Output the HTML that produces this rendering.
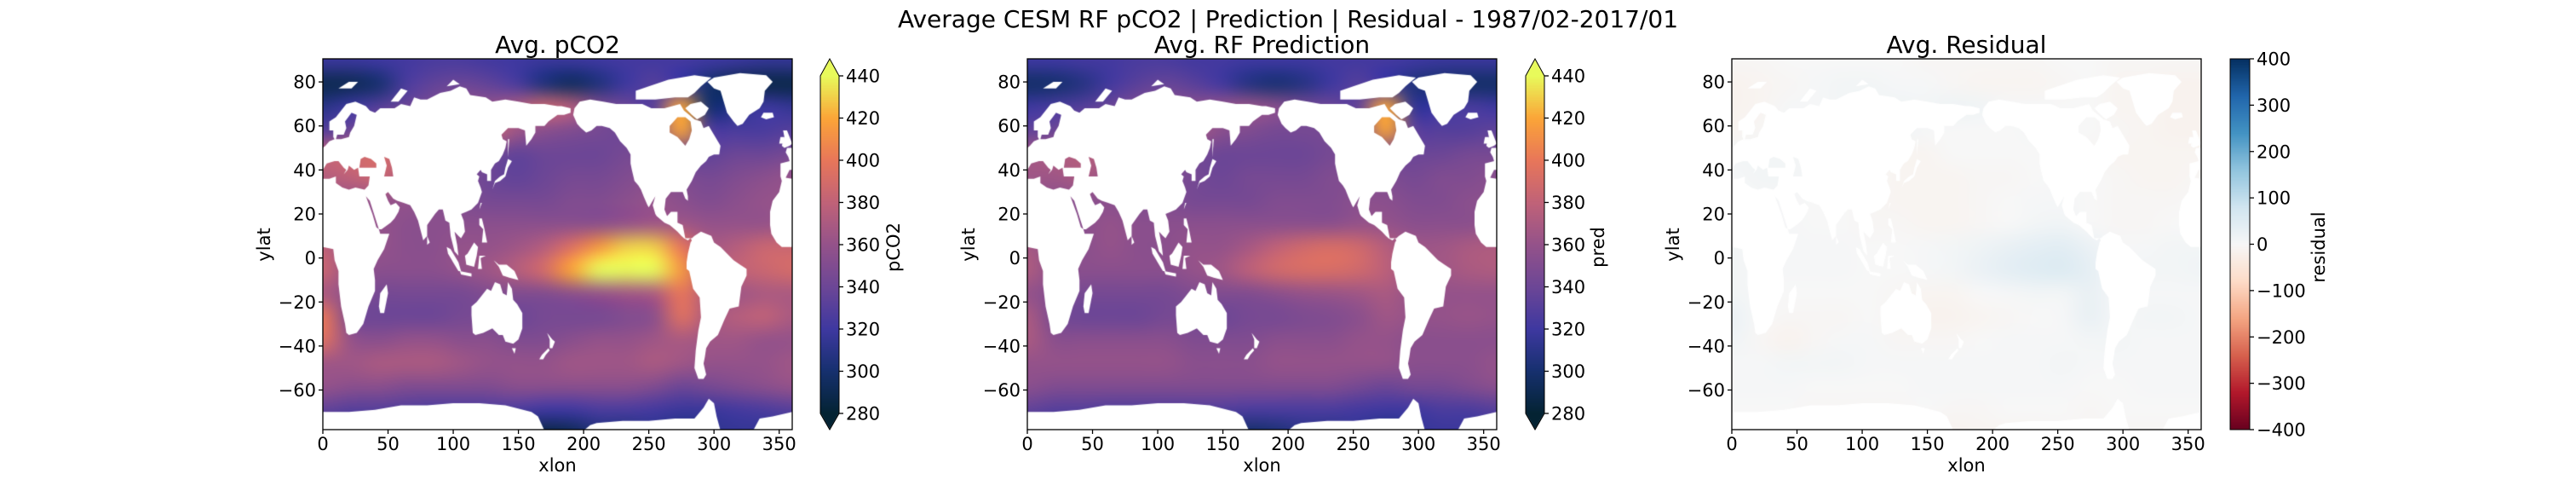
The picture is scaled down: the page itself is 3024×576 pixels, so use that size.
<!DOCTYPE html>
<html><head><meta charset="utf-8"><style>
html,body{margin:0;padding:0;background:#fff;}
#wrap{position:relative;width:3024px;height:576px;overflow:hidden;}
canvas,svg{position:absolute;left:0;top:0;}
text{font-family:"DejaVu Sans","Liberation Sans",sans-serif;fill:#000;}
</style></head><body>
<div id="wrap">
<canvas id="cv" width="3024" height="576"></canvas>
<svg id="sv" width="3024" height="576"></svg>
</div>
<script>
// ---- data (rows: lat 85..-75 step 10; cols: lon 10..350 step 20) ----
const lonCenters=[10,30,50,70,90,110,130,150,170,190,210,230,250,270,290,310,330,350];
const latCenters=[85,75,65,55,45,35,25,15,5,-5,-15,-25,-35,-45,-55,-65,-75];
const pco2Values=[
[318,318,320,322,325,325,322,320,318,318,320,322,322,322,320,318,315,315],
[290,292,300,325,335,340,335,325,305,295,305,320,330,320,300,290,288,288],
[310,320,330,340,350,360,360,370,385,375,350,340,330,420,300,310,320,315],
[330,340,360,380,380,370,385,365,355,350,345,340,340,420,330,325,325,330],
[380,385,390,380,370,360,345,335,340,340,340,345,345,340,335,340,340,345],
[375,380,385,370,360,350,340,335,340,345,345,350,355,350,345,350,355,360],
[360,360,360,360,355,350,345,345,345,350,350,355,360,355,350,355,360,360],
[360,360,360,355,355,355,355,355,355,355,355,360,365,365,360,360,360,365],
[380,360,360,355,355,360,360,365,375,395,415,430,430,400,370,375,385,385],
[385,360,355,355,355,360,365,375,390,420,440,440,440,415,375,380,385,390],
[370,355,345,345,345,345,350,350,350,355,360,365,370,400,370,365,370,370],
[400,345,340,340,340,345,345,340,345,345,345,350,355,395,370,375,380,370],
[395,360,355,360,360,355,355,350,350,355,360,360,365,370,365,365,360,360],
[365,365,370,370,370,365,360,360,360,365,365,365,370,365,360,360,360,365],
[360,355,355,350,350,350,350,355,355,355,355,355,350,340,345,350,355,360],
[335,330,330,328,325,325,325,325,320,320,325,325,322,318,318,322,325,330],
[315,315,315,315,315,312,305,290,285,290,305,305,312,305,312,315,315,315]];
const predValues=[
[320,320,322,322,325,325,322,322,320,320,320,322,322,322,320,318,318,318],
[298,300,308,322,332,338,332,322,308,302,308,320,330,320,305,300,298,298],
[320,325,330,340,350,355,355,360,362,355,345,340,335,420,315,320,325,320],
[335,340,355,365,365,360,368,355,350,345,345,345,340,420,335,330,330,335],
[365,370,375,370,360,355,345,340,340,340,340,345,345,345,340,340,345,345],
[365,365,370,360,355,350,345,340,345,345,345,350,350,350,345,350,350,355],
[355,355,355,355,350,350,345,345,345,350,350,350,355,355,350,350,355,355],
[355,355,355,360,355,355,355,355,355,355,355,355,360,360,355,355,355,360],
[368,355,355,360,355,355,360,360,368,380,388,392,388,375,365,365,370,372],
[372,355,355,355,355,355,360,365,378,388,392,392,388,378,365,365,370,372],
[360,350,345,345,345,345,350,350,350,355,360,362,365,370,360,360,360,360],
[370,345,340,340,340,345,345,340,345,345,348,350,355,365,360,360,362,360],
[370,355,355,355,355,355,350,350,350,355,355,355,360,360,355,355,355,355],
[360,360,360,360,360,360,355,355,355,360,360,360,360,360,355,355,355,360],
[355,350,350,350,350,350,350,350,350,350,350,350,345,340,345,345,350,355],
[335,330,330,328,328,328,328,328,325,325,325,325,322,320,320,325,325,330],
[318,318,318,318,318,315,310,302,298,302,310,310,315,305,315,318,318,318]];
const residualValues=[
[-5,-5,0,0,0,0,0,-5,-5,-5,-5,-5,0,0,-5,-5,-5,-5],
[-15,-10,-5,5,10,10,5,5,-5,-10,-10,-10,-5,0,-10,-10,-15,-15],
[-15,-10,5,5,10,15,15,10,20,15,5,5,0,0,-10,-10,-15,-15],
[-10,-5,5,10,15,20,15,5,0,0,0,5,0,0,-5,-10,-15,-15],
[10,10,10,5,5,0,-10,-10,0,0,0,0,0,-5,-10,-10,-10,-10],
[5,10,10,5,5,0,-10,-10,-10,-5,-5,0,5,0,-5,-10,-10,-5],
[0,5,5,0,0,-5,-10,-10,-10,-5,0,5,5,0,-5,-5,-5,0],
[0,5,5,0,0,-5,-5,-10,-10,-5,0,10,15,0,-5,-5,0,0],
[10,5,5,5,5,0,0,5,10,20,30,40,45,25,5,5,10,10],
[10,5,5,5,5,0,0,5,10,25,40,50,55,35,5,10,10,15],
[10,5,0,0,0,0,-5,-10,-10,0,5,10,10,30,5,5,5,5],
[25,0,-5,-5,-5,0,-10,-15,-15,-10,-5,0,5,30,5,10,10,5],
[15,-5,-15,-5,5,5,-5,-5,-5,0,5,5,5,10,10,5,5,5],
[5,5,10,10,10,5,5,5,5,5,5,5,10,5,5,5,5,5],
[5,5,5,0,0,0,0,5,5,5,5,5,5,0,0,5,5,5],
[0,0,0,-5,-5,-5,-5,0,-5,-5,0,0,0,-5,0,0,0,0],
[-5,-5,-5,-5,-5,-5,-10,-15,-15,-10,-10,-10,-5,-5,-5,-5,-5,-5]];
const xTicks=[0,50,100,150,200,250,300,350];
const yTicks=[80,60,40,20,0,-20,-40,-60];
const thermalTicks=[280,300,320,340,360,380,400,420,440];
const residTicks=[-400,-300,-200,-100,0,100,200,300,400];

// ---- land polygons (lon,lat pairs) ----
const landPolys=[
[0,5,8,4,9,-1,12,-6,12,-12,14,-22,17,-30,18,-34,20,-35,26,-34,31,-30,33,-26,35,-22,40,-15,40,-10,39,-5,42,-1,47,4,51,11,44,11,43,13,45,13,52,16,55,18,58,21,59,23,56,25,52,24,50,26,48,29,50,30,54,27,57,26,62,25,67,24,70,21,73,17,77,8,80,10,80,15,86,20,89,22,92,22,94,17,97,16,98,10,101,3,104,1,103,6,101,12,104,10,106,9,109,12,108,17,106,20,110,21,114,22,119,25,122,30,121,32,119,35,120,37,118,38,121,40,122,39,126,38,126,35,129,35,129,40,132,43,135,44,138,47,140,50,141,53,138,54,137,56,142,59,150,59,155,58,156,51,160,54,163,57,163,60,170,60,173,62,180,65,185,65,190,66,190,68,183,69,180,69,170,70,160,70,150,71,140,72,130,71,125,73,113,74,110,77,105,78,98,76,90,75,80,72,75,72,70,73,67,69,60,70,55,68,44,68,40,66,36,67,33,69,25,71,18,70,14,67,10,64,5,62,5,58,8,58,8,55,9,54,5,53,2,51,0,50],
[360,5,352,5,348,7,344,11,343,15,343,21,345,26,350,30,352,35,351,37,351,43,358,44,357,46,355,48,356,50,360,50],
[354,50,358,51,360,52,358,55,356,58,353,58,354,55,352,51],[350,52,354,52,354,55,351,55],
[336,64,340,63,346,64,345,66,338,66],
[95,5,98,4,104,-2,106,-6,104,-6,101,-3,96,2],[105,-6,114,-7,114,-8.5,106,-7.5],
[109,1,111,2,116,7,119,5,118,1,116,-4,110,-3],[119,-5,120,1,125,1,121,0,122,-5],
[131,-1,135,-3,141,-3,147,-6,150,-10,143,-9,138,-8,135,-4],
[120,18,122,18,124,13,126,7,122,7,123,13,120,15],
[130,31,132,34,136,35,140,37,142,41,145,44,142,45,140,41,139,38,136,37,132,35],
[120,22,122,25,121,25],[80,6,82,7,80,10],[142,46,143,54,142,54],
[114,-22,114,-26,115,-34,117,-35,123,-34,130,-32,135,-35,138,-35,140,-38,146,-39,150,-37,153,-32,153,-25,149,-21,146,-19,145,-14,142,-11,141,-17,138,-16,136,-12,132,-11,129,-15,126,-14,122,-17,118,-20],
[145,-41,148,-41,147,-43.5],[172,-34,176,-37,178,-38,176,-41,174,-41,174,-37],[173,-41,174,-42,171,-44,169,-46,166,-46,168,-44],
[44,-25,47,-25,50,-16,49,-12,44,-16,43,-22],
[192,65,195,61,198,59,202,57,206,58,210,60,214,60,220,59,224,57,228,53,233,50,236,47,236,43,237,40,239,35,242,33,244,31,246,28,249,24,250,23,252,25,255,28,253,24,255,20,256,19,262,16,266,15,268,14,272,12,275,10,277,9,280,8,282,9,283,8,282,7,280,2,279,-2,279,-5,281,-6,284,-14,289,-18,290,-27,288,-33,286,-42,285,-50,288,-55,292,-55,294,-53,292,-48,293,-45,294,-41,297,-38,303,-35,308,-28,312,-23,319,-22,321,-13,325,-8,325,-5,320,-3,315,-1,310,2,305,5,300,7,298,10,290,12,285,10,283,9,278,9,277,12,276,15,272,16,272,21,267,21,264,19,262,22,263,27,267,30,271,30,276,30,278,27,280,26,280,28,279,31,283,35,286,39,290,42,294,44,296,46,300,47,304,47,305,51,302,54,298,58,296,60,292,59,290,62,285,63,281,65,277,67,274,70,268,69,262,68,252,68,245,70,235,70,225,70,215,71,205,72,197,71,193,68],
[240,72,255,72,270,73,280,73,285,75,290,78,298,82,285,83,265,81,250,78,240,76],
[300,77,305,76,308,70,310,66,315,62,318,60,322,61,327,65,335,68,338,71,339,76,345,80,340,83,320,84,300,82,295,80],
[278,68,282,70,290,71,296,68,293,65,287,63,283,65],
[12,77,20,80,27,80,22,77],[52,71,58,71,65,76,60,77],[95,78,105,79,100,81],
[0,-70,20,-70,40,-69,60,-67,80,-67,100,-66,120,-66,140,-67,160,-70,165,-72,170,-78.5,200,-78.5,205,-76,210,-75,230,-74,250,-74,270,-73,285,-73,292,-68,296,-64,300,-66,302,-72,305,-78.5,330,-78.5,335,-73,345,-72,360,-70,360,-85,0,-85]];
const seaPolys=[
[0,36,0,40,3,43,9,44,12,44,16,41,18,40,16,38,19,40,20,42,24,40,27,41,28,37,36,37,35,33,32,31,25,32,20,31,15,32,10,34,10,37,5,36],
[28,41,41,41,41,43,37,45,32,46,29,45],[47,37,54,37,53,41,51,45,47,46,49,42],
[33,28,36,26,43,13,41,14,38,20],
[10,54,14,54,20,55,21,57,24,60,26,65,22,66,17,62,18,59,16,56,11,56],
[266,57,272,55,278,51,281,54,283,58,282,62,278,64,272,64,266,60],
[355,36.5,360,36,360,40,358,40]];

// ---- layout ----
const AX_T=69,AX_H=435,AX_W=551,LAT_TOP=90.5,LAT_BOT=-78;
const panels=[
 {L:379,vals:pco2Values,cm:'thermal',vmin:280,vmax:440,title:'Avg. pCO2',cbx:963,cbw:22,cbl:'pCO2',cblx:1049,ext:true,ticks:thermalTicks,name:'pco2'},
 {L:1206,vals:predValues,cm:'thermal',vmin:280,vmax:440,title:'Avg. RF Prediction',cbx:1791,cbw:22,cbl:'pred',cblx:1876,ext:true,ticks:thermalTicks,name:'prediction'},
 {L:2033,vals:residualValues,cm:'rdbu',vmin:-400,vmax:400,title:'Avg. Residual',cbx:2618,cbw:23,cbl:'residual',cblx:2722,ext:false,ticks:residTicks,name:'residual'}];

const thermal=[[0,4,35,51],[.125,22,48,110],[.25,62,56,160],[.375,108,70,150],[.5,148,82,138],[.625,192,98,120],[.75,232,118,90],[.875,251,165,56],[1,232,250,91]];
const rdbu=[[0,103,0,31],[.1,178,24,43],[.2,214,96,77],[.3,244,165,130],[.4,253,219,199],[.5,247,247,247],[.6,209,229,240],[.7,146,197,222],[.8,67,147,195],[.9,33,102,172],[1,5,48,97]];
function cmap(stops,t){t=Math.max(0,Math.min(1,t));for(let i=1;i<stops.length;i++){if(t<=stops[i][0]){const a=stops[i-1],b=stops[i],f=(t-a[0])/(b[0]-a[0]);return [0,1,2].map(k=>Math.round(a[k+1]+(b[k+1]-a[k+1])*f));}}const l=stops[stops.length-1];return [l[1],l[2],l[3]];}

const cv=document.getElementById('cv'),ctx=cv.getContext('2d');
const SVGNS='http://www.w3.org/2000/svg',sv=document.getElementById('sv');
function T(x,y,s,size,anchor,extra){const t=document.createElementNS(SVGNS,'text');t.setAttribute('x',x);t.setAttribute('y',y);t.setAttribute('font-size',size);t.setAttribute('text-anchor',anchor||'middle');if(extra)t.setAttribute('transform',extra);t.textContent=s;sv.appendChild(t);return t;}
function Ln(x1,y1,x2,y2){const l=document.createElementNS(SVGNS,'line');l.setAttribute('x1',x1);l.setAttribute('y1',y1);l.setAttribute('x2',x2);l.setAttribute('y2',y2);l.setAttribute('stroke','#000');l.setAttribute('stroke-width','1.3');sv.appendChild(l);return l;}

panels.forEach(p=>{
 const px=lon=>p.L+lon*AX_W/360, py=lat=>AX_T+(LAT_TOP-lat)*AX_H/(LAT_TOP-LAT_BOT);
 const stops=p.cm==='thermal'?thermal:rdbu;
 const g=document.createElement('canvas');g.width=lonCenters.length;g.height=latCenters.length;
 const gc=g.getContext('2d');const im=gc.createImageData(g.width,g.height);
 latCenters.forEach((la,r)=>lonCenters.forEach((lo,c)=>{const col=cmap(stops,(p.vals[r][c]-p.vmin)/(p.vmax-p.vmin));const i=(r*g.width+c)*4;im.data[i]=col[0];im.data[i+1]=col[1];im.data[i+2]=col[2];im.data[i+3]=255;}));
 gc.putImageData(im,0,0);
 ctx.save();ctx.beginPath();ctx.rect(p.L,AX_T,AX_W,AX_H);ctx.clip();
 ctx.imageSmoothingEnabled=true;ctx.imageSmoothingQuality='high';
 const cw=AX_W/18,ch=(py(80)-py(90));
 ctx.drawImage(g,0,0,18,17,px(0)-cw/2,py(90)-ch/2,AX_W+cw,ch*17+ch);
 const m=document.createElement('canvas');m.width=3024;m.height=576;const mc=m.getContext('2d');
 mc.fillStyle='#fff';
 landPolys.forEach(poly=>{mc.beginPath();for(let i=0;i<poly.length;i+=2){const X=px(poly[i]),Y=py(poly[i+1]);i?mc.lineTo(X,Y):mc.moveTo(X,Y);}mc.closePath();mc.fill();});
 mc.globalCompositeOperation='destination-out';
 seaPolys.forEach(poly=>{mc.beginPath();for(let i=0;i<poly.length;i+=2){const X=px(poly[i]),Y=py(poly[i+1]);i?mc.lineTo(X,Y):mc.moveTo(X,Y);}mc.closePath();mc.fill();});
 ctx.drawImage(m,0,0);
 ctx.restore();
 const cbTop=AX_T,cbBot=AX_T+AX_H;let barTop=cbTop,barBot=cbBot;
 if(p.ext){barTop=89;barBot=485;}
 for(let y=barTop;y<barBot;y++){const c=cmap(stops,1-(y-barTop)/(barBot-barTop));ctx.fillStyle=`rgb(${c[0]},${c[1]},${c[2]})`;ctx.fillRect(p.cbx,y,p.cbw,1);}
 if(p.ext){
  let c=cmap(stops,1);ctx.fillStyle=`rgb(${c})`;ctx.beginPath();ctx.moveTo(p.cbx,barTop);ctx.lineTo(p.cbx+p.cbw/2,cbTop);ctx.lineTo(p.cbx+p.cbw,barTop);ctx.fill();
  c=cmap(stops,0);ctx.fillStyle=`rgb(${c})`;ctx.beginPath();ctx.moveTo(p.cbx,barBot);ctx.lineTo(p.cbx+p.cbw/2,cbBot);ctx.lineTo(p.cbx+p.cbw,barBot);ctx.fill();
  const o=document.createElementNS(SVGNS,'path');o.setAttribute('d',`M${p.cbx},${barTop}L${p.cbx+p.cbw/2},${cbTop}L${p.cbx+p.cbw},${barTop}L${p.cbx+p.cbw},${barBot}L${p.cbx+p.cbw/2},${cbBot}L${p.cbx},${barBot}Z`);o.setAttribute('fill','none');o.setAttribute('stroke','#000');o.setAttribute('stroke-width','1');
  
  
  sv.appendChild(o);
 } else {
  const o=document.createElementNS(SVGNS,'rect');o.setAttribute('x',p.cbx);o.setAttribute('y',cbTop);o.setAttribute('width',p.cbw);o.setAttribute('height',AX_H);o.setAttribute('fill','none');o.setAttribute('stroke','#000');o.setAttribute('stroke-width','1');
  
  
  sv.appendChild(o);
 }
 p.ticks.forEach(v=>{const y=barBot-(v-p.vmin)/(p.vmax-p.vmin)*(barBot-barTop);Ln(p.cbx+p.cbw,y,p.cbx+p.cbw+5,y);const t=T(p.cbx+p.cbw+8,y+7.5,String(v).replace('-','\u2212'),21,'start');
  
  });
 const cl=T(p.cblx,290,p.cbl,21,'middle',`rotate(-90 ${p.cblx} 290)`);
 cl.setAttribute('dominant-baseline','central');
 
 
 const fr=document.createElementNS(SVGNS,'rect');fr.setAttribute('x',p.L);fr.setAttribute('y',AX_T);fr.setAttribute('width',AX_W);fr.setAttribute('height',AX_H);fr.setAttribute('fill','none');fr.setAttribute('stroke','#000');fr.setAttribute('stroke-width','1.3');
 
 
 sv.appendChild(fr);
 xTicks.forEach(v=>{const x=px(v);Ln(x,AX_T+AX_H,x,AX_T+AX_H+5);const t=T(x,528,String(v),21,'middle');
  
  });
 yTicks.forEach(v=>{const y=py(v);Ln(p.L-5,y,p.L,y);const t=T(p.L-8,y+7.5,String(v).replace('-','\u2212'),21,'end');
  
  });
 const xl=T(p.L+AX_W/2,553,'xlon',21,'middle');
 
 
 const yx=p.L-69;
 const yl=T(yx,287,'ylat',21,'middle',`rotate(-90 ${yx} 287)`);
 yl.setAttribute('dominant-baseline','central');
 
 
 const tt=T(p.L+AX_W/2,62,p.title,28,'middle');
 
 
});
const st=T(1512,32,'Average CESM RF pCO2 | Prediction | Residual - 1987/02-2017/01',28,'middle');


</script>
</body></html>
